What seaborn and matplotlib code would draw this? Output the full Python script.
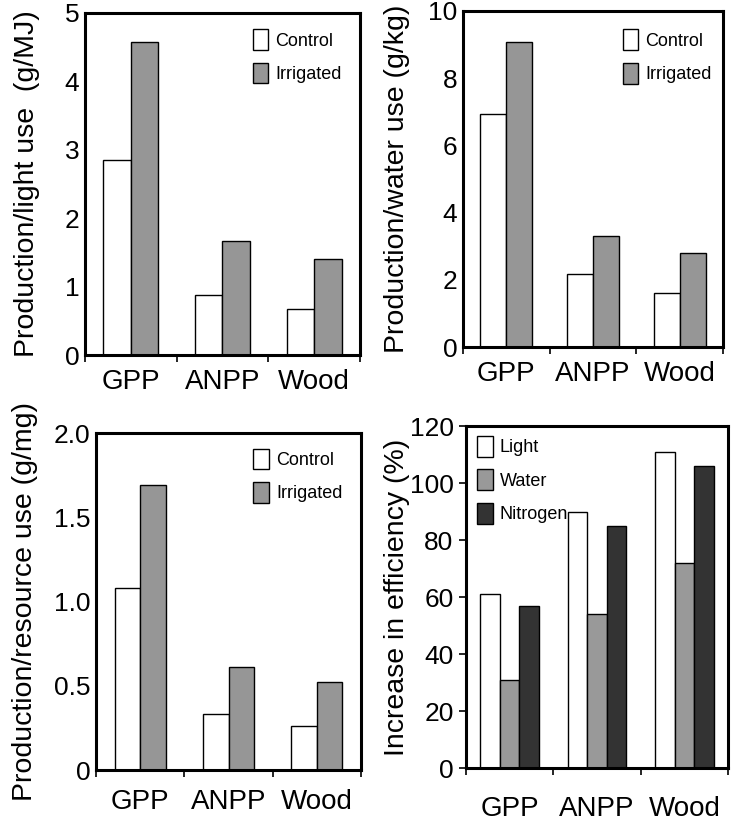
import pandas as pd
import numpy as np
import matplotlib
matplotlib.use('Agg')
import matplotlib.pyplot as plt
import seaborn as sns

sns.set_style('white')
plt.rcParams['font.family'] = ['Liberation Sans', 'DejaVu Sans']
plt.rcParams['text.color'] = 'black'
plt.rcParams['axes.labelcolor'] = 'black'
plt.rcParams['xtick.color'] = 'black'
plt.rcParams['ytick.color'] = 'black'

parts = ['GPP', 'ANPP', 'Wood']
treatments = ['Control', 'Irrigated']
light_control = [2.85, 0.88, 0.67]
light_irrigated = [4.58, 1.66, 1.41]
water_control = [6.93, 2.17, 1.61]
water_irrigated = [9.09, 3.31, 2.80]
resource_control = [1.08, 0.33, 0.26]
resource_irrigated = [1.69, 0.61, 0.52]
resources = ['Light', 'Water', 'Nitrogen']
incr_light = [61, 90, 111]
incr_water = [31, 54, 72]
incr_nitrogen = [57, 85, 106]

W, H = 741, 822
fig = plt.figure(figsize=(W / 100, H / 100), dpi=100)


def px_axes(left, top, right, bottom):
    return fig.add_axes([left / W, 1 - bottom / H, (right - left) / W, (bottom - top) / H])


def make_df(series, names):
    rows = []
    for name, vals in zip(names, series):
        for p, v in zip(parts, vals):
            rows.append({'part': p, 'group': name, 'value': v})
    return pd.DataFrame(rows)


def style_axes(ax, ymax, yticks, yticklabels, ylabel, label_x, xpad, ytickmarks=False):
    ax.set_ylim(0, ymax)
    ax.set_xlim(-0.5, 2.5)
    ax.set_yticks(yticks)
    ax.set_yticklabels(yticklabels)
    ax.set_xticks([0, 1, 2])
    ax.set_xticklabels(parts)
    ax.set_xticks([-0.5, 0.5, 1.5, 2.5], minor=True)
    ax.tick_params(axis='x', which='major', length=0, labelsize=20, pad=xpad)
    ax.tick_params(axis='x', which='minor', length=5, width=1.2, direction='out', bottom=True)
    ax.tick_params(axis='y', labelsize=19, pad=4, length=5 if ytickmarks else 0,
                   width=1.2, direction='out', left=ytickmarks)
    for s in ax.spines.values():
        s.set_visible(True)
        s.set_linewidth(2.2)
        s.set_color('black')
    ax.set_xlabel('')
    ax.set_ylabel(ylabel, fontsize=20.5)
    ax.yaxis.set_label_coords(label_x, 0.5)


def legend(ax, x, y):
    ax.legend(loc='upper left', bbox_to_anchor=(x, y), frameon=False, fontsize=13,
              handlelength=0.85, handleheight=1.4, labelspacing=0.7, handletextpad=0.4,
              borderpad=0, borderaxespad=0)


pal2 = ['white', '#969696']
pal3 = ['white', '#999999', '#333333']

# top left
ax1 = px_axes(85, 13, 360, 355)
df1 = make_df([light_control, light_irrigated], treatments)
sns.barplot(data=df1, x='part', y='value', hue='group', palette=pal2, saturation=1,
            errorbar=None, width=0.6, edgecolor='black', linewidth=1, ax=ax1)
style_axes(ax1, 5, [0, 1, 2, 3, 4, 5], ['0', '1', '2', '3', '4', '5'],
           'Production/light use  (g/MJ)', -0.165, 10)
legend(ax1, 0.611, 0.953)

# top right
ax2 = px_axes(463, 11, 723, 347)
df2 = make_df([water_control, water_irrigated], treatments)
sns.barplot(data=df2, x='part', y='value', hue='group', palette=pal2, saturation=1,
            errorbar=None, width=0.6, edgecolor='black', linewidth=1, ax=ax2)
style_axes(ax2, 10, [0, 2, 4, 6, 8, 10], ['0', '2', '4', '6', '8', '10'],
           'Production/water use (g/kg)', -0.203, 10)
legend(ax2, 0.614, 0.945)

# bottom left
ax3 = px_axes(96, 433, 361, 770)
df3 = make_df([resource_control, resource_irrigated], treatments)
sns.barplot(data=df3, x='part', y='value', hue='group', palette=pal2, saturation=1,
            errorbar=None, width=0.58, edgecolor='black', linewidth=1, ax=ax3)
style_axes(ax3, 2.0, [0, 0.5, 1.0, 1.5, 2.0], ['0', '0.5', '1.0', '1.5', '2.0'],
           'Production/resource use (g/mg)', -0.219, 14)
legend(ax3, 0.594, 0.954)

# bottom right
ax4 = px_axes(466, 426, 728, 768)
df4 = make_df([incr_light, incr_water, incr_nitrogen], resources)
sns.barplot(data=df4, x='part', y='value', hue='group', palette=pal3, saturation=1,
            errorbar=None, width=0.67, edgecolor='black', linewidth=1, ax=ax4)
style_axes(ax4, 120, [0, 20, 40, 60, 80, 100, 120],
           ['0', '20', '40', '60', '80', '100', '120'],
           'Increase in efficiency (%)', -0.214, 20, ytickmarks=True)
legend(ax4, 0.043, 0.971)

fig.savefig('out.png', dpi=100)
